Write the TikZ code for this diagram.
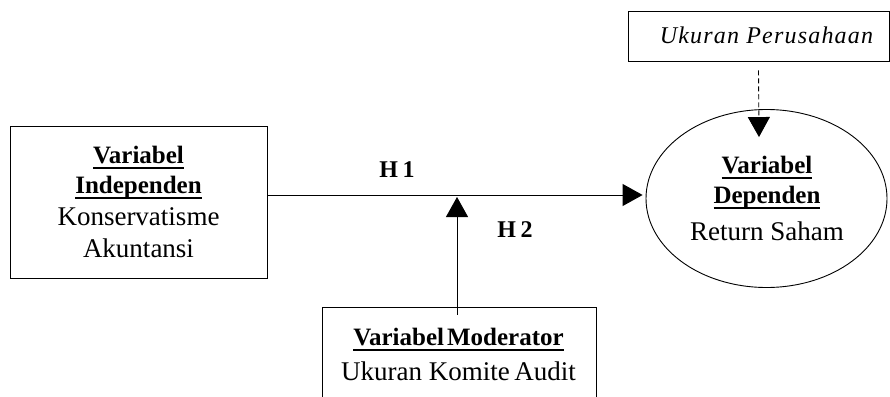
\documentclass[tikz,border=0pt]{standalone}
\usepackage{fontspec}
\setmainfont{Liberation Serif}
\usetikzlibrary{arrows.meta,shapes.geometric}
\tikzset{
  boxshape/.style={draw, line width=0.9pt, rectangle, inner sep=0pt},
  ellshape/.style={draw, line width=0.9pt, ellipse, inner sep=0pt},
  txt/.style={anchor=base, inner sep=0pt, font=\fontsize{27}{32}\selectfont},
  ttl/.style={anchor=base, inner sep=0pt, font=\fontsize{25}{32}\selectfont\bfseries},
  arr/.style={line width=0.9pt, -{Triangle[length=20pt,width=22pt]}},
}
\newcommand{\ul}[1]{\setbox0=\hbox{#1}\rlap{\raisebox{-5.5pt}{\rule{\wd0}{1.5pt}}}\box0}
\begin{document}
\begin{tikzpicture}[x=1pt,y=-1pt]
\clip (0,0) rectangle (890,396);
\fill[white] (0,0) rectangle (890,396);
% boxes
\node[boxshape, minimum width=257pt, minimum height=152pt] (indep) at (138.5,202) {};
\node[ellshape, minimum width=241pt, minimum height=178pt] (dep) at (766.5,198.5) {};
\node[boxshape, minimum width=261pt, minimum height=50pt] (size) at (758.5,36) {};
\node[boxshape, minimum width=274pt, minimum height=130pt] (mod) at (459,372) {};
% texts
\node[ttl] (t1) at (138.5,163) {\ul{Variabel}};
\node[ttl] (t2) at (138.5,193) {\ul{Independen}};
\node[txt] (t3) at (138.5,225) {Konservatisme};
\node[txt] (t4) at (138.5,257) {Akuntansi};
\node[ttl] (d1) at (767,173) {\ul{Variabel}};
\node[ttl] (d2) at (767,203) {\ul{Dependen}};
\node[txt] (d3) at (767,240) {Return Saham};
\node[txt, font=\fontsize{24}{28}\selectfont\itshape\addfontfeature{LetterSpace=5}] (s1) at (766.5,44) {Ukuran Perusahaan};
\node[ttl] (m1) at (458.5,345) {\ul{Variabel\hspace{0.12em}Moderator}};
\node[txt] (m2) at (458.5,380) {Ukuran Komite\hspace{0.17em}Audit};
\node[ttl, font=\fontsize{24}{28}\selectfont\bfseries] (h1) at (397,177) {H\hspace{0.2em}1};
\node[ttl, font=\fontsize{24}{28}\selectfont\bfseries] (h2) at (515,237) {H\hspace{0.2em}2};
% connectors
\coordinate (join) at ([xshift=-2pt]mod.north |- 0,197);
\draw[arr] ([yshift=7pt]indep.east) -- ([xshift=-3pt,yshift=3.5pt]dep.west);
\draw[arr] ([xshift=-2pt,yshift=-8pt]mod.north) -- (join);
\draw[arr, dash pattern=on 5pt off 3pt] ([yshift=-9pt]size.south) -- ([xshift=-7.5pt,yshift=-28pt]dep.north);
\end{tikzpicture}
\end{document}
